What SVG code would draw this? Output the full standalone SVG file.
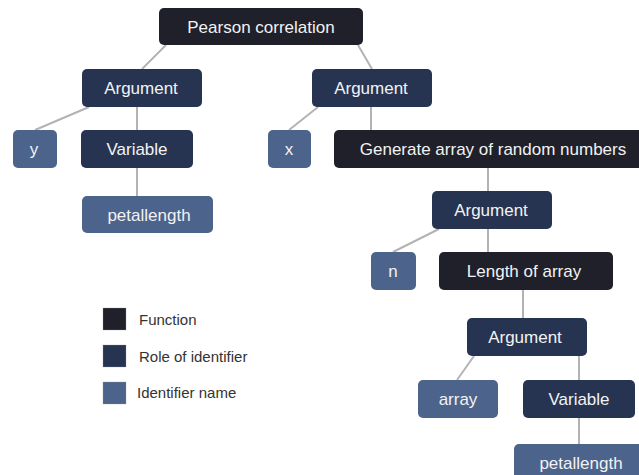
<svg xmlns="http://www.w3.org/2000/svg" width="639" height="475" viewBox="0 0 639 475">
<style>
.fn{fill:#1f2029}
.role{fill:#263452}
.idn{fill:#4c638b}
.lbl{font-family:"Liberation Sans",Arial,sans-serif;font-size:17px;fill:#f2f2f2;text-anchor:middle}
.leg{font-family:"Liberation Sans",Arial,sans-serif;font-size:15px;fill:#333}
.legsq{stroke:#999;stroke-width:0.6;stroke-opacity:0.5}
#connectors line{stroke:#b3b3b3;stroke-width:2}
</style>
<rect width="639" height="475" fill="#fff"/>
<g id="connectors">
<line x1="166" y1="45" x2="142" y2="69"/>
<line x1="358" y1="45" x2="372" y2="69"/>
<line x1="89" y1="107" x2="35" y2="130"/>
<line x1="137" y1="107" x2="137" y2="130"/>
<line x1="137" y1="168" x2="137" y2="196"/>
<line x1="318" y1="107" x2="289" y2="130"/>
<line x1="371" y1="107" x2="371" y2="130"/>
<line x1="488" y1="168" x2="488" y2="191"/>
<line x1="439" y1="229" x2="393" y2="252"/>
<line x1="488" y1="229" x2="488" y2="252"/>
<line x1="523" y1="290" x2="523" y2="318"/>
<line x1="474" y1="356" x2="457" y2="380"/>
<line x1="579" y1="356" x2="579" y2="380"/>
<line x1="579" y1="418" x2="579" y2="444"/>
</g>
<g id="pearson"><rect class="fn" x="159" y="8" width="204" height="37" rx="5"/><text class="lbl" x="261" y="33">Pearson correlation</text></g>
<g id="arg1"><rect class="role" x="82" y="69" width="120" height="38" rx="5"/><text class="lbl" x="141" y="94">Argument</text></g>
<g id="y"><rect class="idn" x="13" y="130" width="44" height="38" rx="5"/><text class="lbl" x="34" y="155">y</text></g>
<g id="var1"><rect class="role" x="81" y="130" width="112" height="38" rx="5"/><text class="lbl" x="137" y="155">Variable</text></g>
<g id="petal1"><rect class="idn" x="82" y="196" width="131" height="37" rx="5"/><text class="lbl" x="149" y="221">petallength</text></g>
<g id="arg2"><rect class="role" x="312" y="69" width="120" height="38" rx="5"/><text class="lbl" x="371" y="94">Argument</text></g>
<g id="x"><rect class="idn" x="268" y="130" width="43" height="38" rx="5"/><text class="lbl" x="289" y="155">x</text></g>
<g id="generate"><rect class="fn" x="334" y="130" width="318" height="38" rx="5"/><text class="lbl" x="493" y="155">Generate array of random numbers</text></g>
<g id="arg3"><rect class="role" x="432" y="191" width="120" height="38" rx="5"/><text class="lbl" x="491" y="216">Argument</text></g>
<g id="n"><rect class="idn" x="371" y="252" width="45" height="38" rx="5"/><text class="lbl" x="393" y="277">n</text></g>
<g id="length"><rect class="fn" x="439" y="252" width="174" height="38" rx="5"/><text class="lbl" x="524" y="277">Length of array</text></g>
<g id="arg4"><rect class="role" x="467" y="318" width="120" height="38" rx="5"/><text class="lbl" x="525" y="343">Argument</text></g>
<g id="array"><rect class="idn" x="418" y="380" width="80" height="38" rx="5"/><text class="lbl" x="458" y="405">array</text></g>
<g id="var2"><rect class="role" x="523" y="380" width="112" height="38" rx="5"/><text class="lbl" x="579" y="405">Variable</text></g>
<g id="petal2"><rect class="idn" x="514" y="444" width="131" height="38" rx="5"/><text class="lbl" x="581" y="469">petallength</text></g>
<g id="legend">
<rect class="fn legsq" x="103" y="308" width="23" height="22"/><text class="leg" x="139" y="325">Function</text>
<rect class="role legsq" x="103" y="345" width="23" height="22"/><text class="leg" x="139" y="362">Role of identifier</text>
<rect class="idn legsq" x="103" y="382" width="23" height="22"/><text class="leg" x="137" y="398">Identifier name</text>
</g>
</svg>
